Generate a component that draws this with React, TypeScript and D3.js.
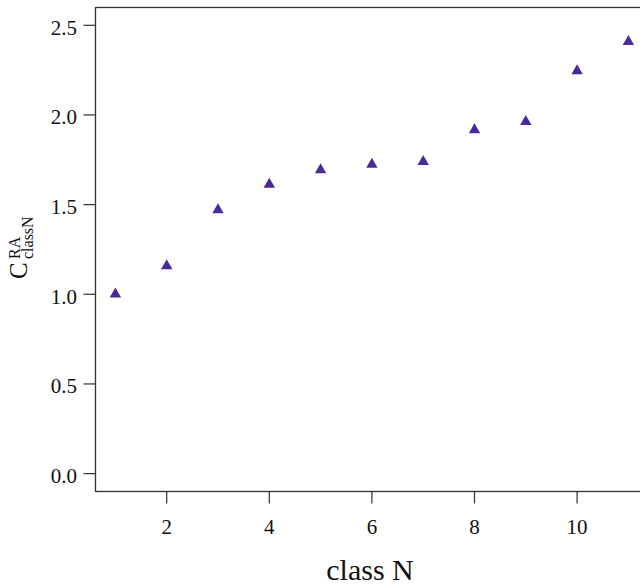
import React from "react";
import * as d3 from "d3";

const classN = [1, 2, 3, 4, 5, 6, 7, 8, 9, 10, 11];
const cValues = [1.0, 1.158, 1.47, 1.613, 1.693, 1.724, 1.74, 1.916, 1.963, 2.245, 2.409];
const xTicks = [2, 4, 6, 8, 10];
const yTicks = [0, 0.5, 1.0, 1.5, 2.0, 2.5];
const xTitle = "class N";

const W = 640;
const H = 587;
const FONT = "'Liberation Serif', 'DejaVu Serif', serif";
const AXIS = "#333";
const MARK = "#4A2A98";

export default function App() {
  const left = 95.5, top = 7.5, bottom = 491.5, right = 645;
  const x = d3.scaleLinear().domain([1, 11]).range([115.4, 628.4]);
  const y = d3.scaleLinear().domain([0, 2.5]).range([473.6, 25.3]);
  const h = 10, hw = 5.7;
  const tri = `M0,${(-2 * h) / 3}L${hw},${h / 3}L${-hw},${h / 3}Z`;
  return (
    <svg width={W} height={H} style={{ position: "absolute", left: 0, top: 0, background: "#fff" }}>
      <rect x={0} y={0} width={W} height={H} fill="#fff" />
      <rect x={left} y={top} width={right - left} height={bottom - top} fill="none" stroke={AXIS} strokeWidth={1.3} />
      {yTicks.map((t) => (
        <g key={"y" + t}>
          <line x1={left - 12} x2={left} y1={y(t)} y2={y(t)} stroke={AXIS} strokeWidth={1.2} />
          <text x={77} y={y(t) + 9.3} textAnchor="end" fontFamily={FONT} fontSize={21} fill="#111">
            {t.toFixed(1)}
          </text>
        </g>
      ))}
      {xTicks.map((t) => (
        <g key={"x" + t}>
          <line x1={x(t)} x2={x(t)} y1={bottom} y2={bottom + 12} stroke={AXIS} strokeWidth={1.2} />
          <text x={x(t)} y={534} textAnchor="middle" fontFamily={FONT} fontSize={21} fill="#111">
            {t}
          </text>
        </g>
      ))}
      <text x={370} y={580} textAnchor="middle" fontFamily={FONT} fontSize={30} fill="#111">
        {xTitle}
      </text>
      <g transform="translate(27,279) rotate(-90)" fontFamily={FONT} fill="#111">
        <text x={0} y={0} fontSize={25}>C</text>
        <text x={20} y={-7.5} fontSize={16}>RA</text>
        <text x={20} y={6} fontSize={16}>classN</text>
      </g>
      {classN.map((n, i) => (
        <path key={n} d={tri} transform={`translate(${x(n)},${y(cValues[i])})`} fill={MARK} />
      ))}
    </svg>
  );
}
